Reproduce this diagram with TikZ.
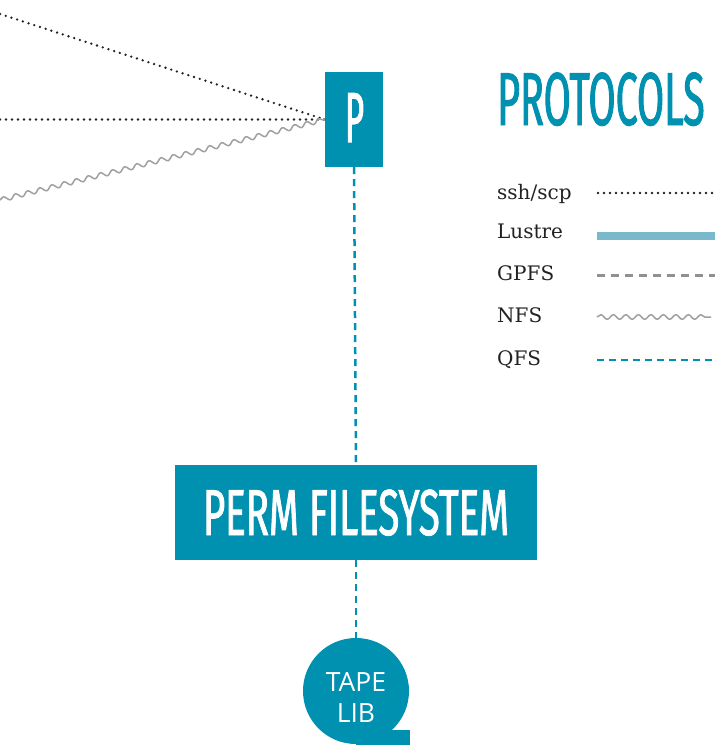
\documentclass[tikz,border=0pt]{standalone}
\usepackage{fontspec}
\setmainfont{DejaVu Serif}
\newfontfamily\condfont[FakeStretch=0.59,FakeBold=1.2]{Fira Sans}
\newfontfamily\titlefont[FakeStretch=0.525,FakeBold=1.2]{Fira Sans}
\newfontfamily\pfont[FakeStretch=0.46,FakeBold=1.4]{Fira Sans}
\newfontfamily\tapefont{Open Sans}
\usetikzlibrary{decorations.pathmorphing}
\definecolor{teal}{HTML}{0090B0}
\definecolor{lustre}{HTML}{7AB8CC}
\definecolor{nfsgray}{HTML}{A0A0A0}
\definecolor{gpfsgray}{HTML}{909090}
\definecolor{ink}{HTML}{222222}
\begin{document}
\begin{tikzpicture}[x=1pt,y=-1pt,
  box/.style={fill=teal,text=white,inner sep=0pt},
  sshline/.style={ink,line width=2.6pt,line cap=round,dash pattern=on 0pt off 6pt},
  lustreline/.style={lustre,line width=8pt},
  gpfsline/.style={gpfsgray,line width=3pt,dash pattern=on 8pt off 6pt},
  nfsline/.style={nfsgray,line width=1.5pt,decorate,decoration={snake,segment length=12.5pt,amplitude=2.3pt}},
  qfsline/.style={teal,line width=2.5pt,dash pattern=on 7pt off 5pt},
  leg/.style={anchor=base west,inner sep=0pt,text=ink,font=\fontsize{20}{24}\selectfont}
]
\useasboundingbox (0,0) rectangle (718,745);
% P box
\node[box,minimum width=58pt,minimum height=95pt] (P) at (354,119.5) {};
\node[anchor=base,inner sep=0pt,text=white,font=\pfont\fontsize{71}{71}\selectfont] (Ptext) at (354.5,142) {P};
% Perm filesystem
\node[box,minimum width=362pt,minimum height=95pt] (perm) at (356,512.5) {};
\node[anchor=base,inner sep=0pt,text=white,font=\condfont\fontsize{65}{65}\selectfont] (permtext) at (356,535) {PERM FILESYSTEM};
% Tape lib
\node[circle,fill=teal,minimum size=106pt,inner sep=0pt] (tape) at (356,691) {};
\fill[teal] (356,730) rectangle (410,745);
\node[text=white,align=center,inner sep=0pt,font=\tapefont\fontsize{26.5}{31}\selectfont] (tapetext) at (356,697) {TAPE\\LIB};
% incoming lines
\coordinate (s1) at (0,14);
\coordinate (s2) at (0,119.5);
\coordinate (s3) at (0,200);
\draw[sshline] (s1) -- (P.west);
\draw[sshline] (s2) -- (P.west);
\draw[nfsline] (s3) -- (P.west);
% QFS links
\draw[qfsline] (P.south) -- (perm.north);
\draw[qfsline] (perm.south) -- (tape.north);
% Legend
\node[anchor=base west,inner sep=0pt,text=teal,font=\titlefont\fontsize{75}{75}\selectfont] (title) at (497,125) {PROTOCOLS};
\node[leg] (l1) at (497,199) {ssh/scp};
\node[leg] (l2) at (497,238) {Lustre};
\node[leg] (l3) at (497,280) {GPFS};
\node[leg] (l4) at (497,322) {NFS};
\node[leg] (l5) at (497,365) {QFS};
\coordinate (a1) at (598,193); \coordinate (b1) at (715,193);
\coordinate (a2) at (597,236); \coordinate (b2) at (715,236);
\coordinate (a3) at (597,275); \coordinate (b3) at (715,275);
\coordinate (a4) at (597,317); \coordinate (b4) at (711,317);
\coordinate (a5) at (597,360); \coordinate (b5) at (715,360);
\draw[sshline] (a1) -- (b1);
\draw[lustreline] (a2) -- (b2);
\draw[gpfsline] (a3) -- (b3);
\draw[nfsline] (a4) -- (b4);
\draw[qfsline] (a5) -- (b5);
\end{tikzpicture}
\end{document}
